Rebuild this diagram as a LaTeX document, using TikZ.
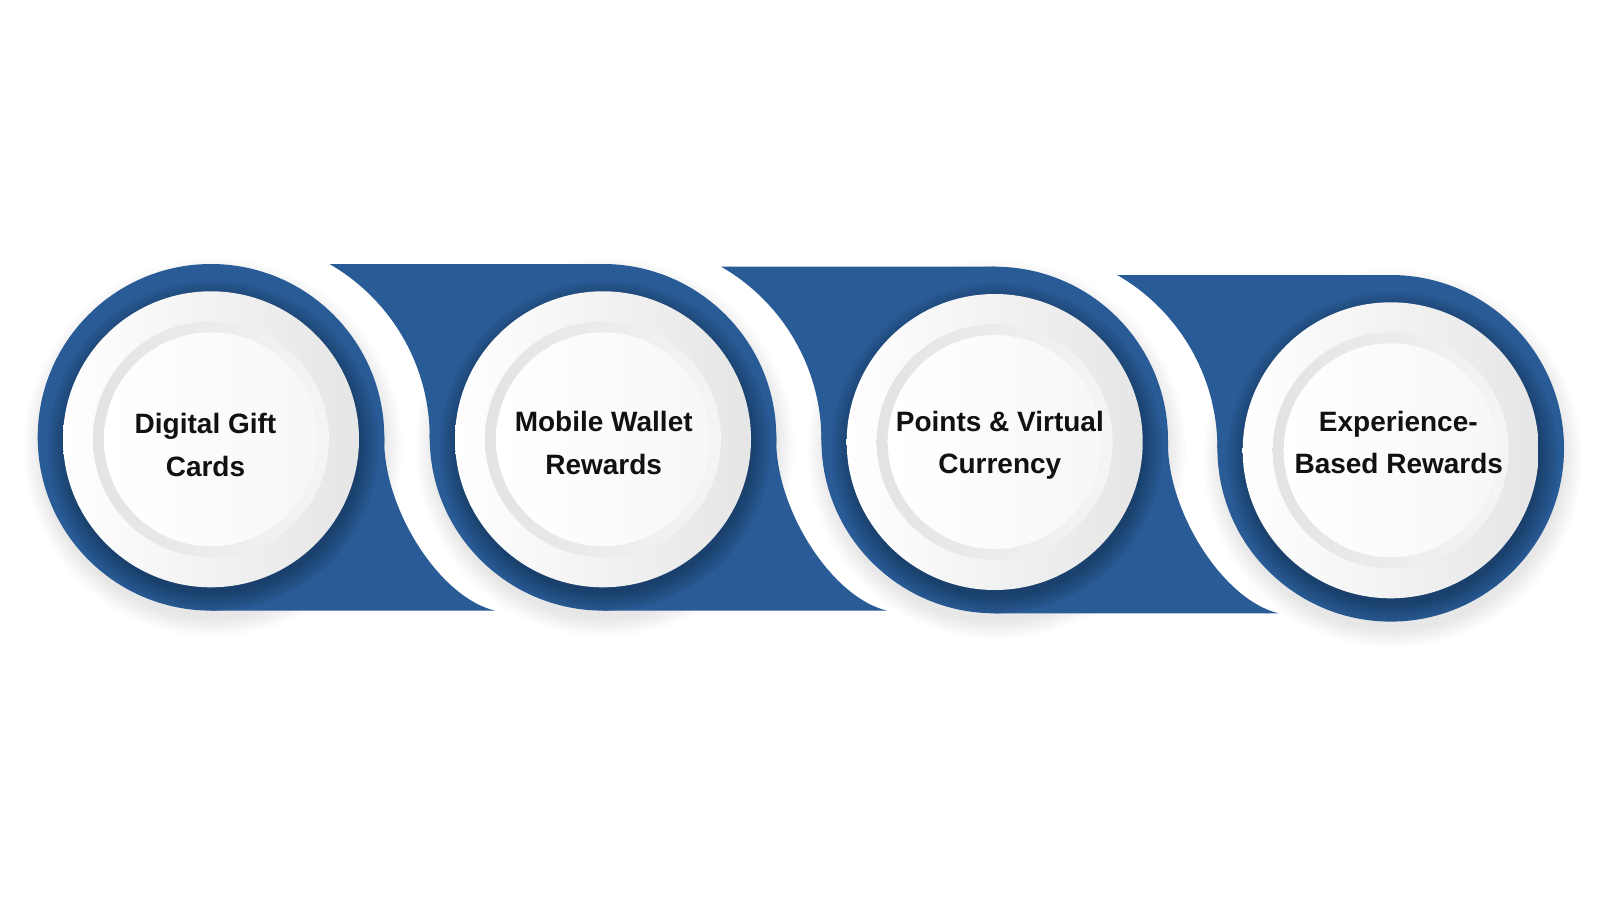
\documentclass[tikz,border=0pt]{standalone}
\usepackage{fontspec}
\setmainfont{Liberation Sans}
\definecolor{bandblue}{HTML}{295B96}
\definecolor{txt}{HTML}{111111}
\tikzset{
  lbl/.style={font=\fontsize{28}{34}\selectfont\bfseries, text=txt, anchor=base, inner sep=0pt},
  bluefill/.style={fill=bandblue, draw=none}
}
\begin{document}
\begin{tikzpicture}[x=1pt,y=-1pt]
\useasboundingbox (0,0) rectangle (1600,900);
\fill[white] (0,0) rectangle (1600,900);
\def\R{173.3}
% ground shadows of the circles
\foreach \X/\Y in {211/437.3, 603/437.3, 994.7/440, 1390.7/448.3}{
  \foreach \k in {1,...,8}
    \fill[black,opacity=0.012] ({\X+2},{\Y+10}) circle ({\R-4+2.5*\k});
}
% blue circles
\foreach \X/\Y in {211/437.3, 603/437.3, 994.7/440, 1390.7/448.3}{
  \fill[bluefill] (\X,\Y) circle (\R);
}
% right bands (units 1-3)
\foreach \X/\Y in {211/437.3, 603/437.3, 994.7/440}{
  \fill[bluefill] (\X,\Y) -- ({\X+\R},\Y) -- ({\X+\R},{\Y+8})
    .. controls ({\X+176},{\Y+78}) and ({\X+231},{\Y+161}) .. ({\X+284},{\Y+\R})
    -- (\X,{\Y+\R}) -- cycle;
}
% left bands (units 2-4)
\foreach \X/\Y in {603/437.3, 994.7/440, 1390.7/448.3}{
  \fill[bluefill] ({\X-273.5},{\Y-\R}) arc[start angle=-60.07, end angle=0, radius=200]
    -- (\X,\Y) -- (\X,{\Y-\R}) -- cycle;
}
% plates
\foreach \X/\Y in {211/437.3, 603/437.3, 994.7/440, 1390.7/448.3}{
  \begin{scope}
    \clip (\X,\Y) circle (\R);
    \foreach \k in {0,...,7}
      \fill[black,opacity=0.035] ({\X+2},{\Y+9}) circle ({148+2.5*\k});
  \end{scope}
  \shade[left color=white, right color=black!10] (\X,{\Y+2}) circle (148);
  \shade[left color=black!11, right color=black!4] (\X,{\Y+2}) circle (118);
  \shade[left color=white, right color=black!3] (\X,{\Y+2}) circle (107);
}
% labels
\node[lbl] (t1a) at (205.5,433.3) {Digital Gift};
\node[lbl] (t1b) at (205.5,476) {Cards};
\node[lbl] (t2a) at (603.7,431.7) {Mobile Wallet};
\node[lbl] (t2b) at (603.7,474) {Rewards};
\node[lbl] (t3a) at (999.8,431) {Points \& Virtual};
\node[lbl] (t3b) at (999.8,473.3) {Currency};
\node[lbl] (t4a) at (1398.3,431) {Experience-};
\node[lbl] (t4b) at (1398.8,473.3) {Based Rewards};
\end{tikzpicture}
\end{document}
